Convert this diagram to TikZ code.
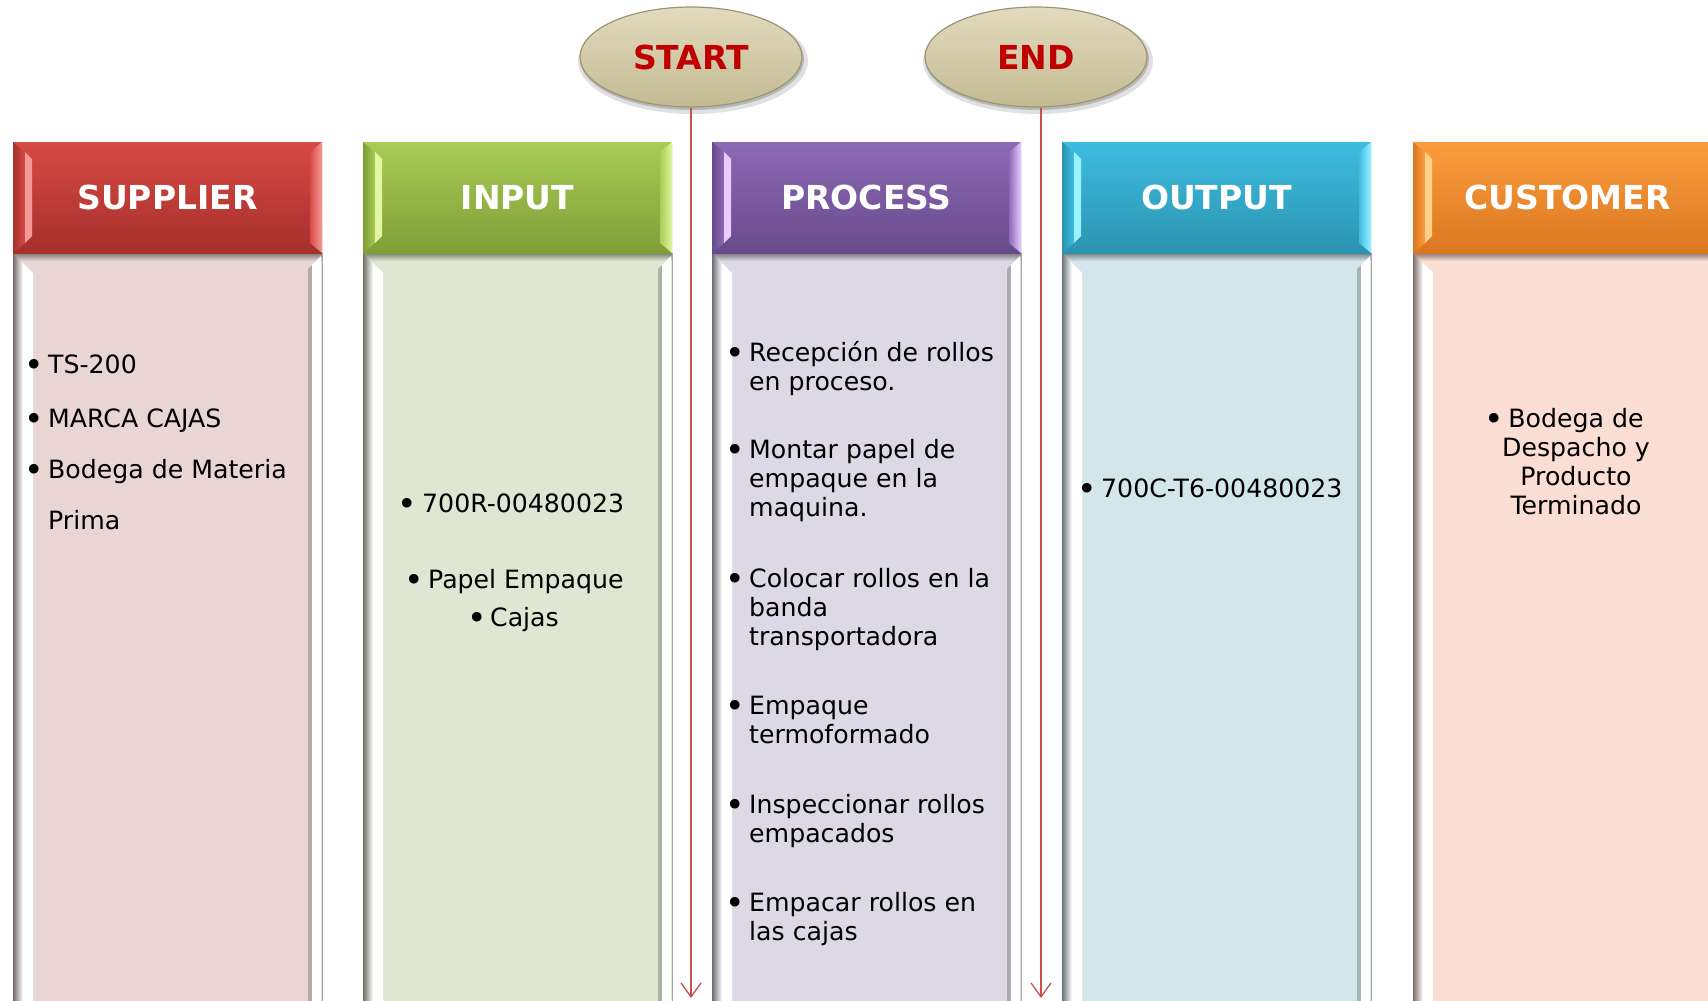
\documentclass[tikz,border=0pt]{standalone}
\usepackage{fontspec}
\setmainfont{DejaVu Sans}
\usetikzlibrary{shapes.geometric,arrows.meta}

% header shades (top / bottom / highlight) and body tints
\definecolor{supTop}{HTML}{D84A44}\definecolor{supBot}{HTML}{A52F2C}\definecolor{supHi}{HTML}{F39A96}\definecolor{supBody}{HTML}{EAD5D5}
\definecolor{inTop}{HTML}{A9CC55}\definecolor{inBot}{HTML}{7F9E38}\definecolor{inHi}{HTML}{E2F7A0}\definecolor{inBody}{HTML}{DFE7D3}
\definecolor{prTop}{HTML}{8D6AB5}\definecolor{prBot}{HTML}{674A8C}\definecolor{prHi}{HTML}{E6CCFF}\definecolor{prBody}{HTML}{DCD8E5}
\definecolor{ouTop}{HTML}{3EBDE0}\definecolor{ouBot}{HTML}{2B93B0}\definecolor{ouHi}{HTML}{9AF2FF}\definecolor{ouBody}{HTML}{D3E6EC}
\definecolor{cuTop}{HTML}{FB9D3E}\definecolor{cuBot}{HTML}{DB7720}\definecolor{cuHi}{HTML}{FFD08A}\definecolor{cuBody}{HTML}{FADDD3}
\definecolor{termRed}{HTML}{C00000}
\definecolor{flowRed}{HTML}{C8504C}
\definecolor{termTop}{HTML}{E2DBBD}
\definecolor{termBot}{HTML}{C3BA92}
\definecolor{termRim}{HTML}{9C9474}

\tikzset{
  headbox/.style={rectangle, minimum width=309pt, minimum height=111pt, inner sep=0pt,
    text=white, font=\fontsize{33}{40}\selectfont\bfseries},
  bodybox/.style={rectangle, minimum width=309pt, minimum height=760pt, inner sep=0pt},
  item/.style={anchor=base west, inner sep=0pt, font=\fontsize{25.2}{29}\selectfont},
  centreditem/.style={anchor=base, inner sep=0pt, font=\fontsize{25.2}{29}\selectfont},
  dot/.style={anchor=base, inner sep=0pt, xshift=3pt, yshift=-3.5pt, font=\fontsize{33}{36}\selectfont},
  terminal/.style={ellipse, minimum width=222pt, minimum height=100pt, inner sep=0pt,
    top color=termTop, bottom color=termBot, draw=termRim, line width=1.2pt,
    font=\fontsize{33}{38}\selectfont\bfseries, text=termRed},
  flow/.style={draw=flowRed, line width=1.3pt, -{Straight Barb[length=14pt,width=20pt]}},
}

% one bevelled lane: #1 id, #2 left x, #3 top, #4 bottom, #5 highlight, #6 body, #7 title
\newcommand\sipoclane[7]{%
  \node[bodybox, fill=#6] (b#1) at (#2+154.5,631) {};
  \shade[top color=#6!55!black, bottom color=#6] (#2,253) rectangle (#2+309,261);
  \shade[left color=#6!50!black, right color=white]
    (#2,253) -- (#2+10,263) -- (#2+10,1010) -- (#2,1010) -- cycle;
  \fill[white] (#2+10,263) -- (#2+20,273) -- (#2+20,1010) -- (#2+10,1010) -- cycle;
  \fill[#6!78!black] (#2+295,269) -- (#2+299,265) -- (#2+299,1010) -- (#2+295,1010) -- cycle;
  \fill[white] (#2+299,265) -- (#2+308,256) -- (#2+308,1010) -- (#2+299,1010) -- cycle;
  \draw[black!35, line width=0.8pt] (#2+309,253) -- (#2+309,1010);
  \node[headbox, top color=#3, bottom color=#4] (h#1) at (#2+154.5,197.5) {#7};
  \shade[left color=#4, right color=#3]
    (#2,142) -- (#2+12,152) -- (#2+12,243) -- (#2,253) -- cycle;
  \fill[#5] (#2+12,152) -- (#2+19,159) -- (#2+19,236) -- (#2+12,243) -- cycle;
  \shade[left color=#3, right color=#5]
    (#2+309,142) -- (#2+309,253) -- (#2+297,243) -- (#2+297,152) -- cycle;
}

\begin{document}
\begin{tikzpicture}[x=1pt, y=-1pt]
\useasboundingbox (0,0) rectangle (1708,1001);
\fill[white] (0,0) rectangle (1708,1001);

\sipoclane{sup}{13}{supTop}{supBot}{supHi}{supBody}{SUPPLIER}
\sipoclane{in}{363}{inTop}{inBot}{inHi}{inBody}{INPUT}
\sipoclane{pr}{712}{prTop}{prBot}{prHi}{prBody}{PROCESS}
\sipoclane{ou}{1062}{ouTop}{ouBot}{ouHi}{ouBody}{OUTPUT}
\sipoclane{cu}{1413}{cuTop}{cuBot}{cuHi}{cuBody}{CUSTOMER}

% supplier
\node[dot] (sd1) at (31.5,373) {•};
\node[item] (s1) at (48,373) {TS-200};
\node[dot] (sd2) at (31.5,427) {•};
\node[item] (s2) at (48,427) {MARCA CAJAS};
\node[dot] (sd3) at (31.5,478) {•};
\node[item] (s3) at (48,478) {\begin{tabular}[t]{@{}l@{}}Bodega de Materia\\[22pt]Prima\end{tabular}};

% input
\node[dot] (id1) at (404,512) {•};
\node[item] (i1) at (422,512) {700R-00480023};
\node[dot] (id2) at (411.5,588) {•};
\node[item] (i2) at (428,588) {Papel Empaque};
\node[dot] (id3) at (474,626) {•};
\node[item] (i3) at (490,626) {Cajas};

% process
\node[dot] (pd1) at (732,361) {•};
\node[item] (p1) at (749,361) {\begin{tabular}[t]{@{}l@{}}Recepción de rollos\\en proceso.\end{tabular}};
\node[dot] (pd2) at (732,458) {•};
\node[item] (p2) at (749,458) {\begin{tabular}[t]{@{}l@{}}Montar papel de\\empaque en la\\maquina.\end{tabular}};
\node[dot] (pd3) at (732,587) {•};
\node[item] (p3) at (749,587) {\begin{tabular}[t]{@{}l@{}}Colocar rollos en la\\banda\\transportadora\end{tabular}};
\node[dot] (pd4) at (732,714) {•};
\node[item] (p4) at (749,714) {\begin{tabular}[t]{@{}l@{}}Empaque\\termoformado\end{tabular}};
\node[dot] (pd5) at (732,813) {•};
\node[item] (p5) at (749,813) {\begin{tabular}[t]{@{}l@{}}Inspeccionar rollos\\empacados\end{tabular}};
\node[dot] (pd6) at (732,911) {•};
\node[item] (p6) at (749,911) {\begin{tabular}[t]{@{}l@{}}Empacar rollos en\\las cajas\end{tabular}};

% output
\node[dot] (od1) at (1084,497) {•};
\node[item] (o1) at (1101,497) {700C-T6-00480023};

% customer
\node[dot] (cd1) at (1491,427) {•};
\node[centreditem] (c1) at (1576,427) {\begin{tabular}[t]{@{}c@{}}Bodega de\\Despacho y\\Producto\\Terminado\end{tabular}};

% start / end terminals with soft shadows
\foreach \cx in {691,1036}{
  \fill[black, opacity=0.12] (\cx+2,61) ellipse [x radius=115pt, y radius=53pt];
  \fill[black, opacity=0.18] (\cx+1,59) ellipse [x radius=112pt, y radius=51pt];
}
\node[terminal] (start) at (691,57) {START};
\node[terminal] (end) at (1036,57) {END};

\coordinate (startTip) at (691,998);
\coordinate (endTip) at (1041,998);
\draw[flow] (start.south) -- (startTip);
\draw[flow] (end.south -| endTip) -- (endTip);
\end{tikzpicture}
\end{document}
